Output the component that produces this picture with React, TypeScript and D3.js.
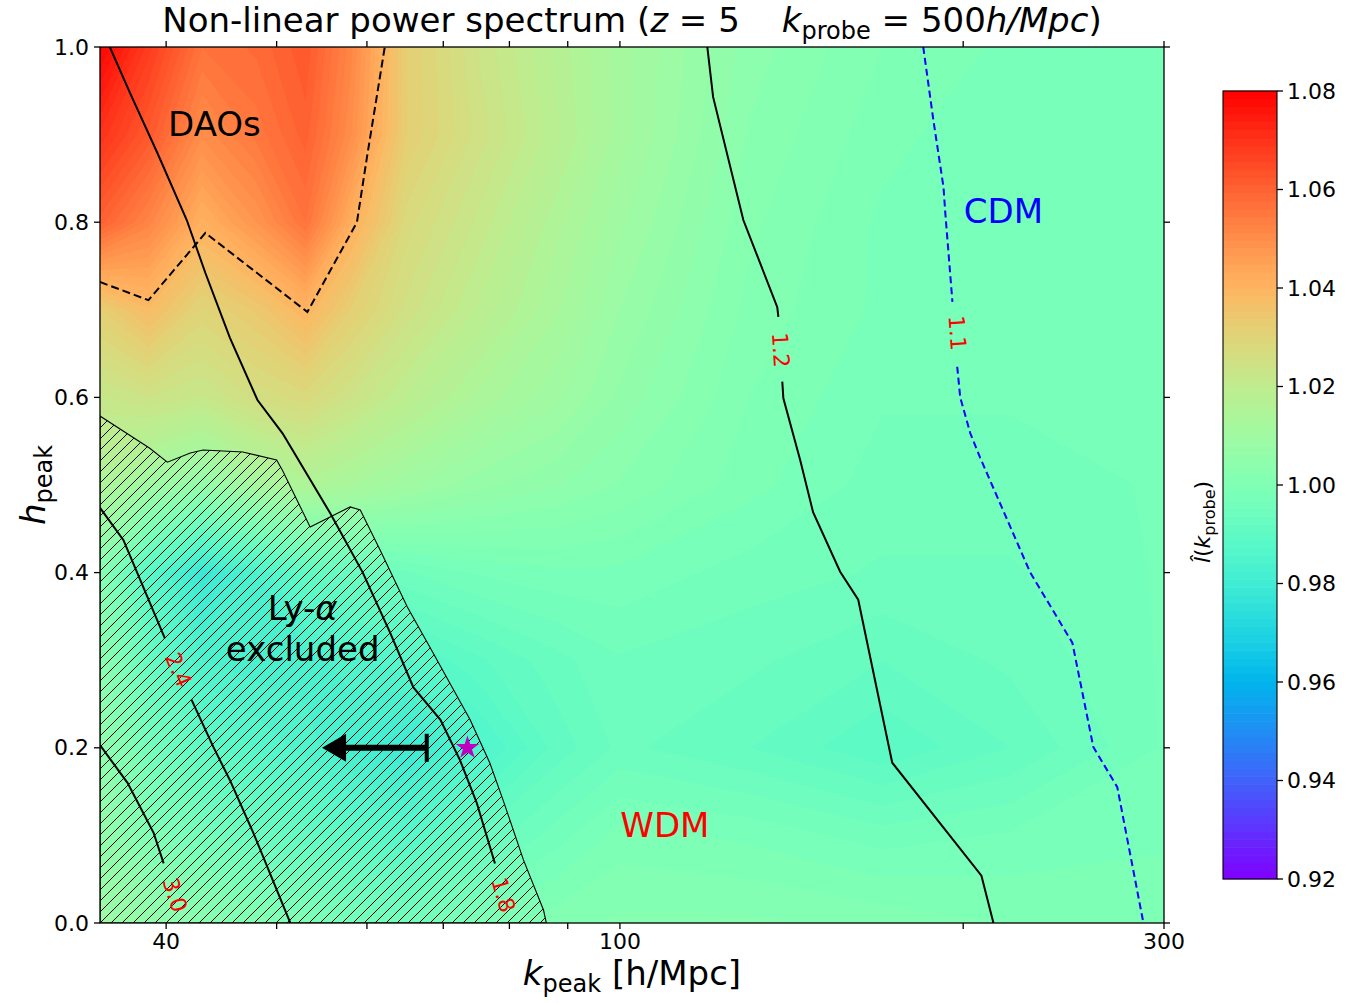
import React from "react";
import * as d3 from "d3";

const W = 1366;
const H = 1003;
const FONT = "DejaVu Sans, sans-serif";

// ---------- field grid (values of l̂(k_probe)) ----------
const kNodes = [35, 38.6, 43, 48, 53, 58, 65, 75, 88, 100, 130, 170, 220, 300];
const hNodes = [0, 0.1, 0.2, 0.3, 0.4, 0.5, 0.6, 0.7, 0.8, 0.9, 1.0];
const row_h00 = [1.009, 1.006, 1.003, 1.001, 0.999, 0.997, 0.996, 0.999, 1.001, 1.002, 1.002, 1.001, 1.0, 1.0];
const row_h01 = [1.006, 1.0, 0.996, 0.993, 0.991, 0.989, 0.987, 0.992, 0.996, 0.999, 0.998, 0.996, 0.997, 0.998];
const row_h02 = [1.005, 0.996, 0.99, 0.987, 0.985, 0.982, 0.979, 0.985, 0.991, 0.994, 0.992, 0.989, 0.992, 0.997];
const row_h03 = [1.004, 0.992, 0.984, 0.983, 0.983, 0.985, 0.987, 0.99, 0.993, 0.995, 0.994, 0.992, 0.994, 0.997];
const row_h04 = [1.002, 0.988, 0.978, 0.984, 0.99, 0.993, 0.995, 0.997, 0.998, 0.998, 0.996, 0.995, 0.995, 0.997];
const row_h05 = [1.015, 1.01, 1.006, 1.012, 1.015, 1.013, 1.01, 1.007, 1.005, 1.003, 0.999, 0.996, 0.996, 0.997];
const row_h06 = [1.022, 1.024, 1.022, 1.026, 1.028, 1.024, 1.019, 1.014, 1.01, 1.006, 1.0, 0.997, 0.997, 0.997];
const row_h07 = [1.032, 1.038, 1.03, 1.034, 1.04, 1.032, 1.025, 1.019, 1.013, 1.008, 1.001, 0.998, 0.997, 0.997];
const row_h08 = [1.06, 1.052, 1.041, 1.048, 1.056, 1.042, 1.028, 1.022, 1.015, 1.01, 1.002, 0.998, 0.997, 0.997];
const row_h09 = [1.07, 1.062, 1.05, 1.055, 1.06, 1.05, 1.032, 1.025, 1.018, 1.012, 1.003, 0.999, 0.997, 0.997];
const row_h10 = [1.079, 1.068, 1.056, 1.058, 1.062, 1.052, 1.032, 1.024, 1.017, 1.012, 1.004, 1.0, 0.998, 0.998];
const fieldRows = [row_h00, row_h01, row_h02, row_h03, row_h04, row_h05, row_h06, row_h07, row_h08, row_h09, row_h10];

const colorMin = 0.92;
const colorMax = 1.08;
const nLevels = 100;
const cbTicks = [0.92, 0.94, 0.96, 0.98, 1.0, 1.02, 1.04, 1.06, 1.08];
const yTicks = [0, 0.2, 0.4, 0.6, 0.8, 1.0];
const xMajorTicks = [40, 100, 300];
const xMinorTicks = [50, 60, 70, 80, 90, 200];

type P = [number, number]; // [k, h]

// ---------- contour lines of the other quantity ----------
const contour18: P[][] = [[
  [35.7, 1.0], [37.2, 0.947], [39.3, 0.879], [41.7, 0.8025], [43.3, 0.742], [45.5, 0.668],
  [48.1, 0.597], [50.6, 0.559], [55.7, 0.468], [59.5, 0.4], [62.9, 0.331], [65.9, 0.269],
  [69.6, 0.232], [72.4, 0.186], [74.9, 0.137], [77.7, 0.068],
]];
const contour24: P[][] = [
  [[35, 0.474], [36.7, 0.437], [39.9, 0.325]],
  [[42.1, 0.255], [44.0, 0.201], [45.5, 0.163], [47.7, 0.103], [51.4, 0.0]],
];
const contour30: P[][] = [[
  [35, 0.203], [37.0, 0.16], [39.0, 0.103], [39.8, 0.068],
]];
const contour12: P[][] = [
  [[119.3, 1.0], [120.7, 0.943], [128.3, 0.8025], [137.4, 0.703], [137.7, 0.692]],
  [[138.8, 0.618], [139.1, 0.599], [143.9, 0.5285], [147.7, 0.469], [156.0, 0.401], [161.8, 0.369],
   [173.3, 0.183], [207.5, 0.054], [212.6, 0.0]],
];
const contour11: P[][] = [
  [[184.5, 1.0], [188.3, 0.9167], [192.2, 0.84], [192.9, 0.8105], [195.7, 0.709]],
  [[197.6, 0.635], [198.8, 0.6], [202.9, 0.559], [207.0, 0.531], [229.0, 0.4], [249.3, 0.32],
   [260.1, 0.201], [273.0, 0.155], [287.8, 0.0]],
];
const daoContour: P[] = [
  [35, 0.7317], [38.6, 0.711], [43.3, 0.7877], [53.2, 0.6975], [58.8, 0.8], [60.0, 0.874], [62.2, 1.0],
];
const contourLabels = [
  { text: "1.8", k: 79.0, h: 0.032, line: contour18 },
  { text: "2.4", k: 41.0, h: 0.289, line: contour24 },
  { text: "3.0", k: 40.7, h: 0.032, line: contour30 },
  { text: "1.2", k: 138.3, h: 0.654, line: contour12 },
  { text: "1.1", k: 197.6, h: 0.6735, line: contour11 },
];

// ---------- Ly-alpha excluded region ----------
const lyaBoundary: P[] = [
  [35, 0.5788], [38.7, 0.542], [40.1, 0.526], [42.0, 0.5365], [43.1, 0.54], [46.7, 0.5377],
  [50.0, 0.5285], [50.6, 0.5166], [53.5, 0.452], [55.7, 0.4635], [58.0, 0.475], [59.2, 0.4715],
  [61.6, 0.426], [65.1, 0.3607], [68.6, 0.308], [73.9, 0.232], [76.9, 0.1826], [79.0, 0.14],
  [82.3, 0.072], [85.7, 0.0148], [86.2, 0.0], [35, 0.0],
];

const arrowTail: P = [67.7, 0.2];
const arrowTip: P = [54.8, 0.2];
const starPoint: P = [73.5, 0.2];

const regionTexts = [
  { lines: ["DAOs"], k: 44.1, h: 0.912, color: "black" },
  { lines: ["CDM"], k: 216.9, h: 0.8128, color: "blue" },
  { lines: ["WDM"], k: 109.5, h: 0.112, color: "red" },
];

// ---------- helpers ----------
function rainbow(t: number): string {
  const c = (v: number) => Math.round(255 * Math.max(0, Math.min(1, v)));
  const r = Math.abs(2 * t - 0.5);
  const g = Math.sin(Math.PI * t);
  const b = Math.cos((Math.PI * t) / 2);
  return `rgb(${c(r)},${c(g)},${c(b)})`;
}

const PL = 100, PR = 1164, PT = 47, PB = 923;
const x = d3.scaleLog().domain([35, 300]).range([PL, PR]);
const y = d3.scaleLinear().domain([0, 1]).range([PB, PT]);
const cb = d3.scaleLinear().domain([colorMin, colorMax]).range([879, 91]);

const nx = kNodes.length;
const ny = hNodes.length;

function gridToScreen(u: number, v: number): [number, number] {
  const fi = Math.max(0, Math.min(nx - 1, u - 0.5));
  const fj = Math.max(0, Math.min(ny - 1, v - 0.5));
  const i0 = Math.min(nx - 2, Math.floor(fi));
  const ti = fi - i0;
  const lk = Math.log(kNodes[i0]) * (1 - ti) + Math.log(kNodes[i0 + 1]) * ti;
  const j0 = Math.min(ny - 2, Math.floor(fj));
  const tj = fj - j0;
  const hh = hNodes[j0] * (1 - tj) + hNodes[j0 + 1] * tj;
  return [x(Math.exp(lk)), y(hh)];
}

const line = d3
  .line<P>()
  .x((d) => x(d[0]))
  .y((d) => y(d[1]));

function labelAngle(segs: P[][]): number {
  let a: P, b: P;
  if (segs.length > 1) {
    a = segs[0][segs[0].length - 1];
    b = segs[1][0];
  } else {
    const s = segs[0];
    a = s[s.length - 2];
    b = s[s.length - 1];
  }
  let ang = (Math.atan2(y(b[1]) - y(a[1]), x(b[0]) - x(a[0])) * 180) / Math.PI;
  if (ang > 90) ang -= 180;
  if (ang < -90) ang += 180;
  return ang;
}

export default function App() {
  const values = fieldRows.flat();
  const step = (colorMax - colorMin) / nLevels;
  const thresholds = d3.range(nLevels).map((i) => colorMin + i * step);
  const contours = d3.contours().size([nx, ny]).thresholds(thresholds)(values);

  const fieldPaths = contours.map((c, i) => {
    let dstr = "";
    for (const poly of c.coordinates) {
      for (const ring of poly) {
        dstr +=
          "M" +
          ring
            .map((p) => {
              const s = gridToScreen(p[0], p[1]);
              return s[0].toFixed(2) + "," + s[1].toFixed(2);
            })
            .join("L") +
          "Z";
      }
    }
    return { d: dstr, fill: rainbow((i + 0.5) / nLevels) };
  });

  const tickLen = 6;
  const axisStroke = 1.3;

  const star = d3.symbol().type(d3.symbolStar).size(170)();

  const ax = x(arrowTail[0]);
  const ay = y(arrowTail[1]);
  const tx = x(arrowTip[0]);
  const ty = y(arrowTip[1]);

  return (
    <svg
      width={W}
      height={H}
      viewBox={`0 0 ${W} ${H}`}
      style={{ position: "absolute", left: 0, top: 0, background: "white" }}
      fontFamily={FONT}
    >
      <defs>
        <clipPath id="plotClip">
          <rect x={PL} y={PT} width={PR - PL} height={PB - PT} />
        </clipPath>
        <pattern id="hatch" patternUnits="userSpaceOnUse" width={11} height={11}>
          <path d="M0,11 L11,0 M-2.75,2.75 L2.75,-2.75 M8.25,13.75 L13.75,8.25" stroke="black" strokeWidth={1} />
        </pattern>
      </defs>

      {/* filled field */}
      <g clipPath="url(#plotClip)">
        <rect x={PL} y={PT} width={PR - PL} height={PB - PT} fill={rainbow(0.005)} />
        {fieldPaths.map((p, i) => (
          <path key={i} d={p.d} fill={p.fill} stroke={p.fill} strokeWidth={0.3} />
        ))}

        {/* Ly-alpha hatched region */}
        <path d={line(lyaBoundary) + "Z"} fill="url(#hatch)" stroke="black" strokeWidth={1.1} />

        {/* DAO dashed contour */}
        <path d={line(daoContour) || ""} fill="none" stroke="black" strokeWidth={2} strokeDasharray="8,4" />

        {/* black solid contours */}
        {[contour18, contour24, contour30, contour12].map((segs, i) =>
          segs.map((s, j) => (
            <path key={`c${i}-${j}`} d={line(s) || ""} fill="none" stroke="black" strokeWidth={2} />
          ))
        )}
        {/* blue dashed contour */}
        {contour11.map((s, j) => (
          <path key={`b${j}`} d={line(s) || ""} fill="none" stroke="blue" strokeWidth={2} strokeDasharray="7,4" />
        ))}

        {/* contour labels */}
        {contourLabels.map((l, i) => (
          <text
            key={`l${i}`}
            transform={`translate(${x(l.k)},${y(l.h)}) rotate(${labelAngle(l.line)})`}
            textAnchor="middle"
            dominantBaseline="central"
            fontSize={22}
            fill="red"
          >
            {l.text}
          </text>
        ))}

        {/* arrow */}
        <line x1={ax} y1={ay} x2={tx + 20} y2={ty} stroke="black" strokeWidth={6} />
        <line x1={ax} y1={ay - 14} x2={ax} y2={ay + 14} stroke="black" strokeWidth={4} />
        <path d={`M${tx},${ty} L${tx + 24},${ty - 14} L${tx + 24},${ty + 14} Z`} fill="black" />

        {/* star */}
        <path d={star || ""} transform={`translate(${x(starPoint[0])},${y(starPoint[1])})`} fill="#bf00bf" />

        {/* region texts */}
        {regionTexts.map((t, i) => (
          <text key={`t${i}`} x={x(t.k)} y={y(t.h)} textAnchor="middle" dominantBaseline="central" fontSize={34} fill={t.color}>
            {t.lines[0]}
          </text>
        ))}
        <text x={x(52.7)} y={y(0.36)} textAnchor="middle" dominantBaseline="central" fontSize={34} fill="black">
          {"Ly-"}
          <tspan fontStyle="italic">α</tspan>
        </text>
        <text x={x(52.7)} y={y(0.313)} textAnchor="middle" dominantBaseline="central" fontSize={34} fill="black">
          excluded
        </text>
      </g>

      {/* spines */}
      <rect x={PL} y={PT} width={PR - PL} height={PB - PT} fill="none" stroke="black" strokeWidth={axisStroke} />

      {/* y ticks */}
      {yTicks.map((t) => (
        <g key={`y${t}`}>
          <line x1={PL - tickLen} x2={PL} y1={y(t)} y2={y(t)} stroke="black" strokeWidth={axisStroke} />
          <line x1={PR} x2={PR + tickLen} y1={y(t)} y2={y(t)} stroke="black" strokeWidth={axisStroke} />
          <text x={PL - tickLen - 5} y={y(t)} textAnchor="end" dominantBaseline="central" fontSize={22}>
            {t.toFixed(1)}
          </text>
        </g>
      ))}

      {/* x ticks */}
      {[...xMajorTicks, ...xMinorTicks].map((t) => (
        <g key={`x${t}`}>
          <line x1={x(t)} x2={x(t)} y1={PB} y2={PB + tickLen} stroke="black" strokeWidth={axisStroke} />
          <line x1={x(t)} x2={x(t)} y1={PT - tickLen} y2={PT} stroke="black" strokeWidth={axisStroke} />
        </g>
      ))}
      {xMajorTicks.map((t) => (
        <text key={`xl${t}`} x={x(t)} y={949} textAnchor="middle" fontSize={22}>
          {String(t)}
        </text>
      ))}

      {/* title */}
      <text x={(PL + PR) / 2} y={32} textAnchor="middle" fontSize={34}>
        {"Non-linear power spectrum ("}
        <tspan fontStyle="italic">z</tspan>
        {" = 5"}
        <tspan dx={42} fontStyle="italic">k</tspan>
        <tspan fontSize={24} dy={7}>probe</tspan>
        <tspan dy={-7}>{" = 500"}</tspan>
        <tspan fontStyle="italic">h/Mpc</tspan>
        {")"}
      </text>

      {/* x label */}
      <text x={(PL + PR) / 2} y={985} textAnchor="middle" fontSize={34}>
        <tspan fontStyle="italic">k</tspan>
        <tspan fontSize={24} dy={7}>peak</tspan>
        <tspan dy={-7}>{" [h/Mpc]"}</tspan>
      </text>

      {/* y label */}
      <text transform="translate(45,485) rotate(-90)" textAnchor="middle" fontSize={34}>
        <tspan fontStyle="italic">h</tspan>
        <tspan fontSize={24} dy={7}>peak</tspan>
      </text>

      {/* colorbar */}
      {thresholds.map((t, i) => (
        <rect
          key={`cb${i}`}
          x={1223}
          y={cb(t + step) - 0.3}
          width={54}
          height={cb(t) - cb(t + step) + 0.6}
          fill={rainbow((i + 0.5) / nLevels)}
        />
      ))}
      <rect x={1223} y={91} width={54} height={788} fill="none" stroke="black" strokeWidth={1.1} />
      {cbTicks.map((t) => (
        <g key={`cbt${t}`}>
          <line x1={1277} x2={1277 + tickLen} y1={cb(t)} y2={cb(t)} stroke="black" strokeWidth={axisStroke} />
          <text x={1287} y={cb(t)} dominantBaseline="central" fontSize={22}>
            {t.toFixed(2)}
          </text>
        </g>
      ))}
      <text transform="translate(1210,522) rotate(-90)" textAnchor="middle" fontSize={22}>
        <tspan fontStyle="italic">{"l\u0302"}</tspan>
        {"("}
        <tspan fontStyle="italic">k</tspan>
        <tspan fontSize={16} dy={5}>probe</tspan>
        <tspan dy={-5}>{")"}</tspan>
      </text>
    </svg>
  );
}
